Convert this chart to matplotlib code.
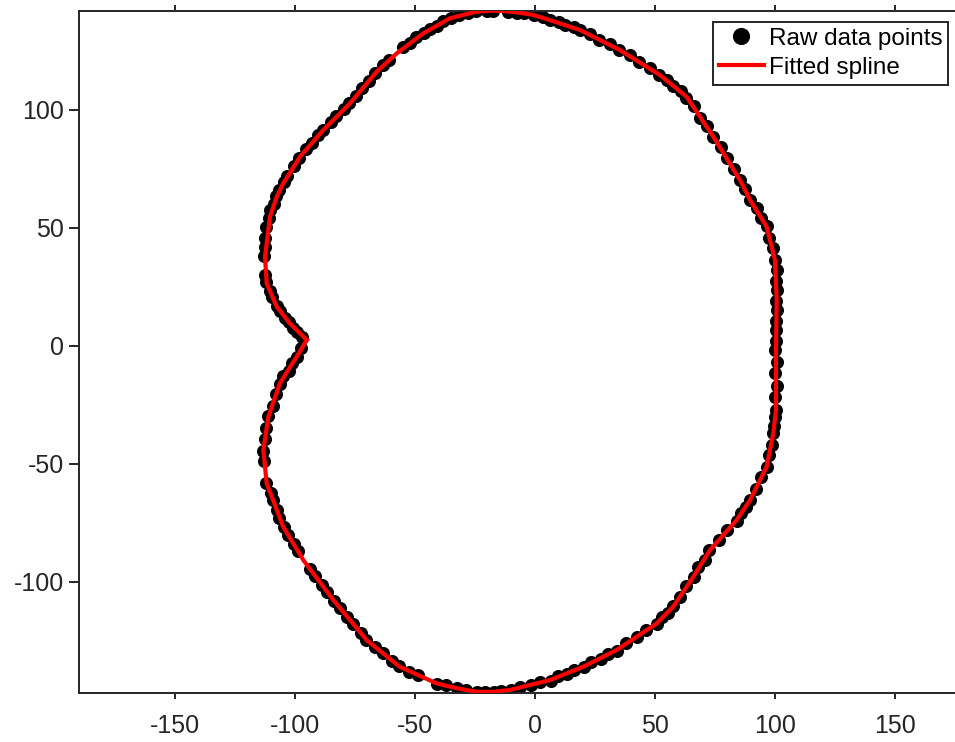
import matplotlib
matplotlib.use("Agg")
import matplotlib.pyplot as plt

plt.rcParams['font.family'] = ['Liberation Sans', 'DejaVu Sans']
plt.rcParams['axes.unicode_minus'] = False

# Raw data points
raw_x = [-97.0, -99.2, -100.7, -102.6, -104.1, -106.2, -107.7, -109.6, -110.6, -112.2, -112.4,
         -112.9, -112.6, -112.5, -112.1, -110.9, -110.5, -108.8, -108.1, -106.5, -104.7, -103.2,
         -100.4, -98.5, -95.4, -93.1, -90.3, -88.2, -84.9, -82.8, -79.6, -77.6, -74.7, -72.2,
         -69.2, -66.5, -63.3, -60.8, -55.1, -52.0, -49.4, -46.2, -43.7, -40.7, -38.2, -35.0,
         -31.8, -27.8, -24.4, -20.2, -17.5, -11.2, -7.4, -4.4, -0.5, 3.2, 6.3, 9.8, 12.6,
         16.1, 18.8, 23.0, 26.7, 31.3, 35.2, 39.7, 43.4, 48.0, 51.8, 55.1, 57.6, 60.8, 63.1,
         66.2, 68.7, 71.8, 74.2, 77.5, 79.8, 83.0, 85.3, 87.6, 89.5, 92.3, 94.1, 96.8, 97.6,
         99.1, 99.9, 100.7, 100.6, 100.9, 100.6, 100.8, 100.3, 100.5, 100.6, 100.2, 100.7,
         100.2, 100.7, 100.2, 100.6, 99.8, 99.7, 99.1, 98.7, 97.4, 96.7, 94.1, 92.2, 89.4,
         87.9, 85.7, 84.2, 80.1, 76.8, 72.7, 70.8, 68.1, 66.2, 63.0, 60.6, 57.4, 55.5, 52.8,
         50.9, 46.3, 42.5, 38.0, 34.2, 30.3, 27.3, 23.4, 20.3, 16.4, 13.4, 9.6, 6.5, 1.9,
         -1.8, -6.4, -10.2, -14.1, -17.1, -21.0, -24.1, -28.7, -32.5, -37.0, -40.8, -48.8,
         -52.3, -56.5, -59.6, -63.4, -66.5, -70.3, -72.7, -75.9, -78.2, -81.4, -83.8, -86.7,
         -88.8, -91.7, -93.8, -98.8, -100.5, -103.0, -104.7, -106.5, -107.5, -109.2, -110.2,
         -112.0, -112.9, -113.3, -112.6, -111.9, -111.3, -109.3, -108.1, -106.1, -104.8,
         -102.6, -101.3, -99.1, -97.4]
raw_y = [3.6, 5.8, 7.7, 10.1, 11.9, 14.8, 16.8, 20.5, 23.2, 27.0, 30.2,
         38.0, 42.1, 45.8, 50.4, 54.3, 57.8, 60.3, 63.6, 65.9, 69.4, 72.2,
         76.2, 79.8, 83.3, 86.1, 89.3, 91.7, 95.0, 97.4, 100.3, 102.9, 106.1, 109.2,
         112.5, 115.8, 119.1, 121.3, 126.6, 128.3, 131.0, 132.5, 134.5, 135.8, 137.8, 138.9,
         140.4, 141.0, 142.1, 141.9, 142.0, 141.7, 141.2, 141.1, 140.2, 139.6, 138.1, 137.4, 136.0,
         135.2, 133.8, 132.4, 129.8, 128.1, 125.4, 123.2, 120.3, 117.8, 114.7, 112.8, 110.1, 108.2, 105.2,
         101.5, 96.8, 93.0, 88.7, 84.3, 79.5, 75.1, 70.2, 66.4, 61.8, 58.3, 54.2, 50.8, 45.8,
         41.5, 36.3, 32.3, 27.6, 23.8, 19.2, 15.3, 10.6, 6.8, 2.1, -1.6, -6.9,
         -11.7, -17.2, -21.9, -27.4, -30.3, -34.0, -36.9, -42.0, -46.4, -51.5, -55.8, -60.9, -65.2,
         -68.4, -70.9, -74.1, -77.9, -82.5, -86.4, -90.6, -93.9, -98.1, -101.9, -106.6, -110.4, -113.2, -115.1,
         -117.9, -120.3, -123.6, -126.0, -129.2, -130.6, -132.8, -134.1, -136.3, -137.3, -139.1, -140.1, -141.9, -142.6,
         -143.9, -144.6, -146.0, -146.2, -146.9, -146.8, -146.9, -145.8, -145.2, -143.9, -143.3, -139.4,
         -138.1, -135.9, -133.5, -130.3, -127.8, -124.6, -121.6, -117.8, -114.8, -111.0, -108.0, -104.2,
         -101.2, -97.5, -94.5, -87.2, -83.9, -80.1, -76.9, -72.8, -69.5, -65.5, -62.2,
         -58.1, -48.7, -44.4, -39.3, -35.0, -29.9, -25.6, -20.4, -16.1, -12.9,
         -10.5, -7.2, -4.8, -1.0]

# Fitted spline
spline_x = [-95.1, -102.1, -107.6, -111.8, -112.5, -110.4, -107.6, -104.9, -97.9, -88.2, -77.1,
            -66.0, -57.6, -46.5, -35.4, -24.3, -18.5, -13.2, -6.8, -0.7, 6.3, 18.8, 35.4, 52.1,
            63.2, 74.3, 85.4, 89.6, 96.5, 100.0, 100.7, 100.4, 100.4, 99.3, 96.5, 89.6, 84.0,
            72.9, 66.0, 57.6, 50.7, 34.0, 20.1, 6.3, -10.4, -17.5, -24.3, -32.5, -41.0, -56.3, -70.1,
            -84.0, -96.5, -104.9, -111.8, -113.2, -111.1, -106.3, -99.3, -95.1]
spline_y = [2.5, 9.5, 16.6, 26.5, 37.8, 54.8, 63.2, 68.9, 80.2, 91.5, 102.8,
            116.2, 124.0, 132.5, 138.9, 141.7, 142.1, 142.0, 141.3, 140.3, 138.1, 133.9, 125.4, 114.8,
            105.6, 88.7, 70.3, 61.9, 50.5, 36.4, 19.4, -1.8, -27.2, -37.1, -51.3, -65.4, -73.9,
            -86.6, -97.9, -110.6, -117.7, -129.0, -136.1, -141.7, -145.9, -146.7, -146.7, -145.2, -143.1, -136.1, -124.8,
            -107.8, -90.9, -76.7, -58.3, -44.2, -30.1, -15.9, -4.6, 2.5]

x_ticks = [-150, -100, -50, 0, 50, 100, 150]
y_ticks = [-100, -50, 0, 50, 100]

W, H = 955, 742
fig = plt.figure(figsize=(W / 100, H / 100), dpi=100)
ax = fig.add_axes([79 / W, (H - 693) / H, 912 / W, (693 - 10.7) / H])

ax.plot(raw_x, raw_y, linestyle='none', marker='o', markersize=8.4,
        color='black', label='Raw data points', zorder=2)
ax.plot(spline_x, spline_y, color='red', linewidth=3.0, label='Fitted spline', zorder=3)

ax.set_xlim(-190, 190)
ax.set_ylim(-147.2, 142.1)
ax.set_xticks(x_ticks)
ax.set_yticks(y_ticks)

dark = '#262626'
for s in ax.spines.values():
    s.set_color(dark)
    s.set_linewidth(1.4)
ax.tick_params(axis='x', direction='out', length=4.5, width=1.4, colors=dark,
               labelsize=18, pad=10.5, top=True, labeltop=False)
ax.tick_params(axis='y', direction='out', length=7.5, width=1.4, colors=dark,
               labelsize=18, pad=3.5, right=True)

leg = ax.legend(loc='upper right', bbox_to_anchor=(948.3 / W, 1 - 21.7 / H),
                bbox_transform=fig.transFigure, borderaxespad=0,
                fontsize=17.5, handlelength=1.85, handletextpad=0.2,
                borderpad=0.25, labelspacing=0.28, markerscale=1.35,
                fancybox=False, framealpha=1, edgecolor=dark)
leg.get_frame().set_linewidth(1.4)
for t in leg.get_texts():
    t.set_color('black')

fig.savefig('out.png', dpi=100)
